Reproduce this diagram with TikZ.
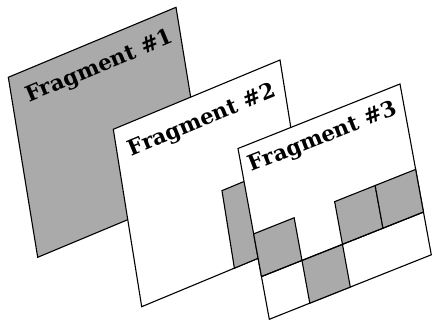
\documentclass[tikz,border=0pt]{standalone}
\usepackage{fontspec}
\setmainfont{DejaVu Serif}
\definecolor{cellgray}{RGB}{170,170,170}

\tikzset{
  sheet/.style={draw, line width=1.1pt, line join=miter},
  cell/.style={draw, fill=cellgray, line width=1.1pt},
  title/.style={font=\bfseries\fontsize{21.5}{24}\selectfont, inner sep=0pt}
}

\begin{document}
\begin{tikzpicture}[x=1pt,y=1pt]
\useasboundingbox (0,0) rectangle (432,321);

% fragment 1, completely gray
\begin{scope}[shift={(8.3,243.7)}, x={(167.7pt,70pt)}, y={(29.4pt,-180pt)}]
  \filldraw[sheet, fill=cellgray] (0,0) -- (1,0) -- (1,1) -- (0,1) -- cycle;
  \node[title, rotate=22.7] (title1) at (0.52,0.145) {Fragment \#1};
\end{scope}

% fragment 2
\begin{scope}[shift={(113.3,191.7)}, x={(166.7pt,69.3pt)}, y={(28.4pt,-177.4pt)}]
  \filldraw[sheet, fill=white] (0,0) -- (1,0) -- (1,1) -- (0,1) -- cycle;
  \filldraw[cell] (0.556,0.563) -- (0.8,0.563) -- (0.8,1) -- (0.556,1) -- cycle;
  \node[title, rotate=22.6] (title2) at (0.506,0.151) {Fragment \#2};
\end{scope}

% fragment 3 with its 4x4 grid (lower half)
\begin{scope}[shift={(238,172.5)}, x={(162pt,64.5pt)}, y={(31.3pt,-170.8pt)}]
  \filldraw[sheet, fill=white] (0,0) -- (1,0) -- (1,1) -- (0,1) -- cycle;
  \foreach \s/\t in {0/0.5, 0.5/0.5, 0.75/0.5, 0.25/0.75}
    \filldraw[cell] (\s,\t) -- ++(0.25,0) -- ++(0,0.25) -- ++(-0.25,0) -- cycle;
  \draw[sheet] (0,0.75) -- (1,0.75);
  \node[title, rotate=21.7] (title3) at (0.50,0.125) {Fragment \#3};
\end{scope}
\end{tikzpicture}
\end{document}
